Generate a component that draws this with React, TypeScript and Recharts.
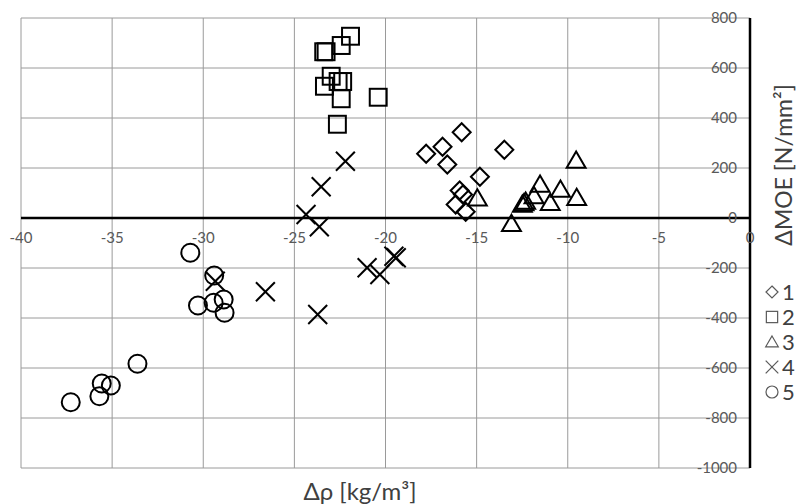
import React from 'react';
import {
  ScatterChart, Scatter, XAxis, YAxis, CartesianGrid, ReferenceLine, ReferenceDot, Legend,
} from 'recharts';

const xTicks = [-40, -35, -30, -25, -20, -15, -10, -5, 0];
const yTicks = [-1000, -800, -600, -400, -200, 0, 200, 400, 600, 800];

const s1X = [-15.82, -16.87, -17.77, -16.61, -13.48, -14.82, -15.93, -15.75, -16.15, -15.6];
const s1Y = [343, 285, 257, 214, 273, 165, 110, 94, 54, 25];

const s2X = [-21.92, -22.43, -23.39, -23.26, -22.98, -23.35, -22.6, -22.35, -22.43, -20.4, -22.64];
const s2Y = [727, 690, 665, 665, 567, 527, 546, 546, 477, 483, 375];

const s3X = [-9.54, -11.52, -10.4, -9.51, -10.96, -11.85, -14.96, -13.09, -12.49, -12.4, -12.31];
const s3Y = [230, 134, 114, 81, 61, 88, 79, -23, 54, 60, 66];

const s4X = [-22.2, -23.53, -24.36, -23.63, -26.59, -23.72, -21.01, -20.31, -19.54, -19.41, -29.34];
const s4Y = [227, 125, 14, -35, -295, -386, -199, -226, -153, -159, -253];

const s5X = [-37.27, -35.7, -35.57, -35.07, -33.61, -30.71, -29.4, -30.29, -29.43, -28.88, -28.83];
const s5Y = [-737, -713, -662, -670, -583, -139, -230, -350, -339, -326, -379];

const seriesNames = ['1', '2', '3', '4', '5'];
const seriesKinds = ['diamond', 'square', 'triangle', 'x', 'circle'];
const seriesXs = [s1X, s2X, s3X, s4X, s5X];
const seriesYs = [s1Y, s2Y, s3Y, s4Y, s5Y];

const FONT = 'Lato, "Open Sans", sans-serif';

function glyph(kind: string, cx: number, cy: number, s: number, stroke: string, sw: number) {
  const common = { fill: 'none', stroke, strokeWidth: sw };
  switch (kind) {
    case 'diamond':
      return <polygon {...common} points={`${cx},${cy - s} ${cx + s},${cy} ${cx},${cy + s} ${cx - s},${cy}`} />;
    case 'square':
      return <rect {...common} x={cx - s * 0.94} y={cy - s * 0.94} width={s * 1.88} height={s * 1.88} />;
    case 'triangle':
      return <polygon {...common} points={`${cx},${cy - s} ${cx + s * 1.05},${cy + s * 0.8} ${cx - s * 1.05},${cy + s * 0.8}`} />;
    case 'x':
      return (
        <g {...common}>
          <line x1={cx - s * 1.05} y1={cy - s * 1.05} x2={cx + s * 1.05} y2={cy + s * 1.05} />
          <line x1={cx - s * 1.05} y1={cy + s * 1.05} x2={cx + s * 1.05} y2={cy - s * 1.05} />
        </g>
      );
    default:
      return <circle {...common} cx={cx} cy={cy} r={s} />;
  }
}

const makeShape = (kind: string) => (props: any) => {
  const { cx, cy } = props;
  if (cx == null || cy == null) return <g />;
  return glyph(kind, cx, cy, 9, '#000', 2);
};

const renderLegend = () => (
  <div style={{ fontFamily: FONT, fontSize: 22, color: '#404040', lineHeight: '25px' }}>
    {seriesNames.map((n, i) => (
      <div key={n} style={{ display: 'flex', alignItems: 'center', height: 25, whiteSpace: 'nowrap' }}>
        <svg width={16} height={16} style={{ marginRight: 2 }}>
          {glyph(seriesKinds[i], 8, 8, 6, '#595959', 1.2)}
        </svg>
        <span>{n}</span>
      </div>
    ))}
  </div>
);

const YTitle = (props: any) => {
  const vb = props.viewBox || {};
  const x = (vb.x || 0) + 34;
  const y = (vb.y || 0) + 147;
  return (
    <text x={x} y={y} transform={`rotate(-90 ${x} ${y})`} textAnchor="middle" dominantBaseline="central"
      fontFamily={FONT} fontSize={23} fill="#404040">
      ΔMOE [N/mm²]
    </text>
  );
};

const XTitle = (props: any) => {
  const vb = props.viewBox || {};
  const x = (vb.x || 0) + 339;
  const y = (vb.y || 0) + 22;
  return (
    <text x={x} y={y} textAnchor="middle" dominantBaseline="central" fontFamily={FONT} fontSize={24} fill="#404040">
      Δρ [kg/m³]
    </text>
  );
};

const EmptyTick = () => <g />;

export default function App() {
  return (
    <div style={{ width: 798, height: 504, background: '#fff' }}>
      <style>{'body{margin:0;}'}</style>
      <ScatterChart width={798} height={504} margin={{ top: 18, right: 48, left: 21, bottom: 0 }}>
        <CartesianGrid stroke="#9a9a9a" strokeWidth={1} />
        <XAxis
          type="number"
          dataKey="x"
          domain={[-40, 0]}
          ticks={xTicks}
          interval={0}
          axisLine={false}
          tickLine={false}
          tick={EmptyTick}
          height={36}
          label={<XTitle />}
        />
        <YAxis
          type="number"
          dataKey="y"
          domain={[-1000, 800]}
          ticks={yTicks}
          interval={0}
          orientation="right"
          mirror
          width={1}
          axisLine={{ stroke: '#000', strokeWidth: 2.5 }}
          tickLine={false}
          tickSize={0}
          tickMargin={13}
          tick={{ fill: '#595959', fontSize: 15, fontFamily: FONT }}
          label={<YTitle />}
        />
        <ReferenceLine y={0} stroke="#000" strokeWidth={2.5} />
        {xTicks.map((t) => (
          <ReferenceDot key={t} x={t} y={0} r={0} fill="none" stroke="none"
            label={{ value: String(t), position: 'bottom', offset: 14, fill: '#595959', fontSize: 15, fontFamily: FONT }} />
        ))}
        {seriesNames.map((n, i) => (
          <Scatter
            key={n}
            name={n}
            data={seriesXs[i].map((x, j) => ({ x, y: seriesYs[i][j] }))}
            shape={makeShape(seriesKinds[i])}
            isAnimationActive={false}
          />
        ))}
        <Legend layout="vertical" align="center" verticalAlign="middle" content={renderLegend}
          wrapperStyle={{ left: 764, top: 279, width: 60 }} />
      </ScatterChart>
    </div>
  );
}
